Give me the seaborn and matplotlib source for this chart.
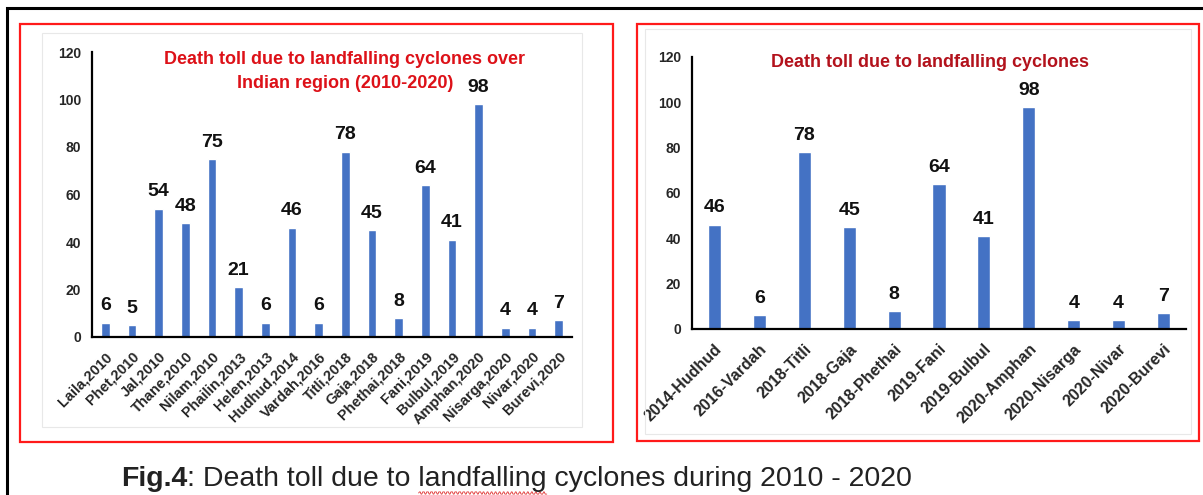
import numpy as np
import pandas as pd
import matplotlib
matplotlib.use("Agg")
import matplotlib.pyplot as plt
from matplotlib.patches import Rectangle
from matplotlib.lines import Line2D
import seaborn as sns

# Landfalling cyclones over the Indian region, 2010-2020
cyclones_all = ["Laila,2010", "Phet,2010", "Jal,2010", "Thane,2010", "Nilam,2010",
                "Phailin,2013", "Helen,2013", "Hudhud,2014", "Vardah,2016", "Titli,2018",
                "Gaja,2018", "Phethai,2018", "Fani,2019", "Bulbul,2019", "Amphan,2020",
                "Nisarga,2020", "Nivar,2020", "Burevi,2020"]
deaths_all = [6, 5, 54, 48, 75, 21, 6, 46, 6, 78, 45, 8, 64, 41, 98, 4, 4, 7]

# Cyclones from 2014 onwards
cyclones_recent = ["2014-Hudhud", "2016-Vardah", "2018-Titli", "2018-Gaja", "2018-Phethai",
                   "2019-Fani", "2019-Bulbul", "2020-Amphan", "2020-Nisarga", "2020-Nivar",
                   "2020-Burevi"]
deaths_recent = [46, 6, 78, 45, 8, 64, 41, 98, 4, 4, 7]

y_ticks = [0, 20, 40, 60, 80, 100, 120]

sns.set_style("white")
FONT = ["Liberation Sans", "DejaVu Sans"]
plt.rcParams["font.family"] = FONT

BAR_BLUE = "#4472C4"

fig = plt.figure(figsize=(12.03, 4.95), dpi=100)
W, H = 1203.0, 495.0


def fx(px):
    return px / W


def fy(py):
    return 1 - py / H


def draw_panel(rect, cats, vals, width, title_lines, title_color, title_x,
               title_ys, xlabel_size):
    ax = fig.add_axes(rect)
    df = pd.DataFrame({"name": cats, "deaths": vals})
    sns.barplot(data=df, x="name", y="deaths", color=BAR_BLUE, width=width,
                saturation=1, ax=ax, errorbar=None)
    n = len(cats)
    ax.set_xlim(-0.5, n - 0.5)
    ax.set_ylim(0, 120)
    ax.set_yticks(y_ticks)
    ax.set_yticklabels([str(t) for t in y_ticks], fontsize=10, fontweight="bold")
    ax.set_xticks(np.arange(n))
    ax.set_xticklabels(cats, rotation=45, ha="right", rotation_mode="anchor",
                       fontsize=xlabel_size, fontweight="bold")
    ax.set_xticks(np.arange(n + 1) - 0.5, minor=True)
    ax.tick_params(axis="x", which="major", length=0, pad=9)
    ax.tick_params(axis="x", which="minor", length=5, width=1.3,
                   direction="out", color="black")
    ax.tick_params(axis="y", length=4, width=1.3, direction="out",
                   color="black", pad=4)
    ax.set_xlabel("")
    ax.set_ylabel("")
    for side in ("top", "right"):
        ax.spines[side].set_visible(False)
    for side in ("left", "bottom"):
        ax.spines[side].set_linewidth(1.6)
        ax.spines[side].set_color("black")
    ax.patch.set_alpha(0)
    for cont in ax.containers:
        ax.bar_label(cont, labels=[str(v) for v in vals], padding=6,
                     fontsize=14, fontweight="bold", color="#111111")
    for line, ty in zip(title_lines, title_ys):
        fig.text(title_x, ty, line, ha="center", va="center",
                 color=title_color, fontsize=13, fontweight="bold")
    return ax


# Left panel: all cyclones 2010-2020
draw_panel([fx(92), fy(337), fx(572) - fx(92), fy(52) - fy(337)],
           cyclones_all, deaths_all, 0.33,
           ["Death toll due to landfalling cyclones over", "Indian region (2010-2020)"],
           "#dd1118", fx(345), [fy(59), fy(83)], 10.5)

# Right panel: 2014-2020
draw_panel([fx(692), fy(329), fx(1186) - fx(692), fy(57) - fy(329)],
           cyclones_recent, deaths_recent, 0.29,
           ["Death toll due to landfalling cyclones"],
           "#b3121c", fx(930), [fy(63)], 11.5)

# Faint plot-area outlines
for x0, y0, x1, y1 in [(42, 33, 582, 427), (645, 29, 1191, 434)]:
    fig.patches.append(Rectangle((fx(x0), fy(y1)), fx(x1) - fx(x0), fy(y0) - fy(y1),
                                 transform=fig.transFigure, fill=False,
                                 edgecolor="#e8e8e8", linewidth=0.8, zorder=0))

# Red frames around each chart
for x0, y0, x1, y1 in [(20, 24, 613, 442), (637, 24, 1199, 441)]:
    fig.patches.append(Rectangle((fx(x0), fy(y1)), fx(x1) - fx(x0), fy(y0) - fy(y1),
                                 transform=fig.transFigure, fill=False,
                                 edgecolor="#ff1a1a", linewidth=1.6, zorder=3))

# Black outer frame (left and top edges)
fig.lines.append(Line2D([fx(7), fx(7), 1.0], [0.0, fy(8), fy(8)],
                        transform=fig.transFigure, color="black",
                        linewidth=2.2, solid_joinstyle="miter", zorder=3))

# Figure caption: bold "Fig.4" followed by regular text
renderer = fig.canvas.get_renderer()
cap_y = fy(486)
cap_size = 20.5
t1 = fig.text(fx(121), cap_y, "Fig.4", ha="left", va="baseline",
              fontsize=cap_size, fontweight="bold", color="#222222")
x_next = t1.get_window_extent(renderer=renderer).x1
rest = ": Death toll due to landfalling cyclones during 2010 - 2020"
fig.text(x_next / fig.bbox.width, cap_y, rest, ha="left", va="baseline",
         fontsize=cap_size, color="#222222")

# Locate the word "landfalling" for its red wavy underline
probe = fig.text(0, 0, ": Death toll due to ", fontsize=cap_size)
w_prefix = probe.get_window_extent(renderer=renderer).width
probe.set_text(": Death toll due to landfalling")
w_word_end = probe.get_window_extent(renderer=renderer).width
probe.remove()
x_start = (x_next + w_prefix) / fig.bbox.width
x_end = (x_next + w_word_end) / fig.bbox.width
n_pts = 160
wx = np.linspace(x_start, x_end, n_pts)
wy = fy(493) + 0.0022 * np.sign(np.sin(np.linspace(0, 64 * np.pi, n_pts)))
fig.lines.append(Line2D(wx, wy, transform=fig.transFigure, color="#e03030",
                        linewidth=0.6))

fig.savefig("out.png", dpi=100, facecolor="white")
